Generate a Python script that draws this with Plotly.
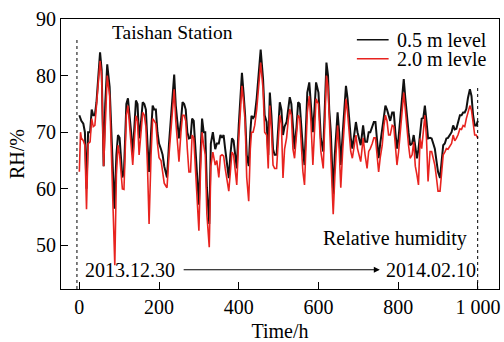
import plotly.graph_objects as go

# ---- data ----
hours_05 = [0,5,10,14,18,22,27,31,35,39,43,47,52,56,61,65,70,76,80,84,88,93,97,101,108,112,118,122,126,130,134,142,146,150,155,159,163,167,171,175,180,184,188,192,196,200,205,209,213,217,220,225,230,234,238,242,246,250,255,259,263,267,271,275,279,283,287,291,295,300,304,308,312,316,320,326,330,335,341,345,350,354,358,362,366,370,375,379,383,387,391,395,400,404,408,412,416,420,425,429,432,436,440,445,449,455,461,465,470,474,478,482,486,490,495,499,503,507,511,515,520,524,528,532,536,540,545,549,553,557,561,565,569,572,577,581,586,590,594,600,606,612,616,620,624,627,631,637,641,644,648,652,656,661,665,669,673,677,681,685,690,694,698,702,706,710,712,717,722,726,730,735,739,743,747,751,755,760,764,768,772,776,780,785,789,793,797,801,805,810,814,818,822,826,830,835,839,843,847,851,855,859,863,867,871,875,880,884,888,892,896,900,905,909,913,917,921,925,930,934,938,942,946,950,955,959,963,967,971,975,980,984,988,992,996,1000]
rh_05 = [73,72,71.5,70,60,70,70,74,73,73,75.3,79.4,84.1,81,64,75,82,78,70,62,56.5,66,69.5,69,62,63,75,76,73.5,70,66,75.6,75,68.9,72,75.3,75,74,68,63,70,74.7,74,74,70,68,67,66,64,63,62,68,72.4,76,80.2,74.7,71,68.9,72,75.3,75,74,70,68.9,69,72.4,72,67.7,62,57.2,66,72.4,70,70,60.2,53.8,68,70,67,68,68,69.5,69,69.5,67,65,61.9,66,68.9,68.5,66,63.6,71.2,76,80.5,77,73,66,64,70,72.9,72.5,72.9,76,79.4,84.6,79.4,73,71.8,66,77,73,67,66,66,71,75.3,74,69.5,71,71.8,74,76.2,75,70,67,71,75.3,75,70,67,64.2,74,77,78.8,75,70,74,78.8,77,68.9,66.6,74,82.3,80,74,70,59,66,68.9,73.5,70,64.2,70,75,78.2,76,72.4,69,67.1,70,71.8,70,69,67.7,70,71.2,68.3,68.3,70,70,71,71.8,71.8,68,65.4,68,70.6,73,74.7,74,73,72,73.5,73.5,70,67.1,69,71.8,76,79.4,76,72.4,70,67.7,68,69.5,67,65.4,67,70,72.4,72.5,74.7,72,68.9,69,68.9,68,67.1,65,63,61.9,65,67.7,68,68.9,69,69.5,70,71.2,70.5,70.6,71.5,73,73,73.5,73.5,74.1,76,77.6,76.4,73,71.2,71.2,72]

hours_20 = [0,3,5,10,14,18,22,27,31,35,39,43,47,52,56,61,65,70,76,80,84,89,93,97,101,108,112,118,122,126,130,134,142,146,150,155,159,163,167,171,175,180,184,188,192,196,200,205,209,213,217,220,225,230,234,238,242,246,250,255,259,263,267,271,275,279,283,287,291,295,300,304,308,312,316,320,326,330,335,341,345,350,354,358,362,366,370,375,379,383,387,391,395,400,404,408,412,416,420,425,429,432,436,440,445,449,455,461,465,470,474,478,482,486,490,495,499,503,507,511,515,520,524,528,532,536,540,545,549,553,557,561,565,569,572,577,581,586,590,594,600,606,612,616,620,624,627,631,637,641,644,648,652,656,661,665,669,673,677,681,685,690,694,698,702,706,710,712,717,722,726,730,735,739,743,747,751,755,760,764,768,772,776,780,785,789,793,797,801,805,810,814,818,822,826,830,835,839,843,847,851,855,859,863,867,871,875,880,884,888,892,896,900,905,909,913,917,921,925,930,934,938,942,946,950,955,959,963,967,971,975,980,984,988,992,996,1000]
rh_20 = [63,70,69,68.5,67.7,56.4,68,68.3,72.4,71,71.2,74.1,78.2,82.6,79.9,64,73,80,76.5,67.7,58,46.5,62.5,67.7,66,60,59.9,73,74.7,71.2,67.7,64.2,72.9,72,66,70,73.5,73,71,64,53.8,66,72.4,72,71.5,68,65.5,65,63,61,60.5,60.2,66,70,74,77.6,72,68,64.8,70,73,73,72,67,63,63,69.5,69,64.2,58,52.6,63,70,67.7,66,55.5,49.7,64,66.5,64.2,65,62,65.8,66,65.8,63.6,62,59.6,63,66.5,66,63,60.7,69,74,78.2,75.5,71.8,62,57.8,67,70,70,71.2,74,77,82.3,77.6,70,69.5,63.6,74.7,70.5,64.2,63.6,63.6,68,73,71.5,61.9,67,69,72,74.1,73,67,65.4,69,73,72.5,66.6,63,60.7,67.7,73.5,76.4,72,64.2,71,75.9,75,66.6,63.6,72,80,78,72.4,68,55.5,62,66,71.2,67,60.2,67,72,75.9,73.5,69.5,66.6,65.4,67.7,69.5,67.1,66,64.8,67.5,69,66,63.6,66.6,67.1,68,69,69,65.4,63,65.5,67.7,71,73,72,69.5,69.5,71.2,71,67.5,64.2,66.5,70,74,77,74,70,67.7,65.4,66,68.3,64,62.5,60.7,68.9,67.1,70,73,69,61.3,66.6,66.6,65.4,64.2,62,59.6,59.6,63,66,66.5,67.1,67,67.7,68,69.5,68.5,68.9,69.5,70.6,70.5,71.2,71,72.4,73.5,74.7,73.9,71.2,69.5,69.5,68.9]

x_tickvals = [0, 200, 400, 600, 800, 1000]
x_ticktext = ["0", "200", "400", "600", "800", "1 000"]
y_tickvals = [50, 60, 70, 80, 90]
series_names = ["0.5 m level", "2.0 m levle"]

FONT = "Liberation Serif"
BLACK = "#111111"
RED = "#e8231f"

fig = go.Figure()
fig.add_trace(go.Scatter(x=hours_05, y=rh_05, mode="lines", name=series_names[0],
                         line=dict(color=BLACK, width=2.0), showlegend=False))
fig.add_trace(go.Scatter(x=hours_20, y=rh_20, mode="lines", name=series_names[1],
                         line=dict(color=RED, width=1.6), showlegend=False))

# dotted boundary lines
fig.add_shape(type="line", x0=-6, x1=-6, y0=42.3, y1=86.7, xref="x", yref="y",
              line=dict(color="black", width=1, dash="dot"))
fig.add_shape(type="line", x0=999.5, x1=999.5, y0=42.3, y1=78, xref="x", yref="y",
              line=dict(color="black", width=1, dash="dot"))

# manual legend (line samples + labels)
leg_rows = [(0.923, BLACK, series_names[0]), (0.853, RED, series_names[1])]
for yy, col, name in leg_rows:
    fig.add_shape(type="line", xref="paper", yref="paper", x0=0.6755, x1=0.748, y0=yy, y1=yy,
                  line=dict(color=col, width=1.4))
    fig.add_annotation(xref="paper", yref="paper", x=0.762, y=yy, text=name, showarrow=False,
                       xanchor="left", yanchor="middle", font=dict(family=FONT, size=20, color="black"))

fig.add_annotation(x=234, y=87.6, text="Taishan Station", showarrow=False,
                   font=dict(family=FONT, size=19.5, color="black"))
fig.add_annotation(x=792, y=51.3, text="Relative humidity", showarrow=False,
                   font=dict(family=FONT, size=20, color="black"))
fig.add_annotation(x=128, y=45.7, text="2013.12.30", showarrow=False,
                   font=dict(family=FONT, size=20, color="black"))
fig.add_annotation(x=882, y=45.7, text="2014.02.10", showarrow=False,
                   font=dict(family=FONT, size=20, color="black"))
fig.add_annotation(x=754, y=45.7, ax=258, ay=45.7, axref="x", ayref="y", xref="x", yref="y",
                   text="", showarrow=True, arrowhead=2, arrowsize=1, arrowwidth=1.2, arrowcolor="black")

fig.update_layout(
    width=504, height=342,
    margin=dict(l=61, r=4, t=19, b=50),
    paper_bgcolor="white", plot_bgcolor="white",
    font=dict(family=FONT, size=20, color="black"),
    xaxis=dict(range=[-46, 1053], tickvals=x_tickvals, ticktext=x_ticktext,
               ticks="inside", ticklen=7, tickcolor="black", showgrid=False, zeroline=False,
               showline=True, mirror=True, linecolor="black", linewidth=1,
               tickfont=dict(family=FONT, size=20),
               title=dict(text="Time/h", font=dict(family=FONT, size=20), standoff=6)),
    yaxis=dict(range=[42.3, 90], tickvals=y_tickvals,
               ticks="inside", ticklen=7, tickcolor="black", showgrid=False, zeroline=False,
               showline=True, mirror=True, linecolor="black", linewidth=1,
               tickfont=dict(family=FONT, size=20),
               title=dict(text="RH/%", font=dict(family=FONT, size=20), standoff=6)),
)

fig.write_html("out.html")
